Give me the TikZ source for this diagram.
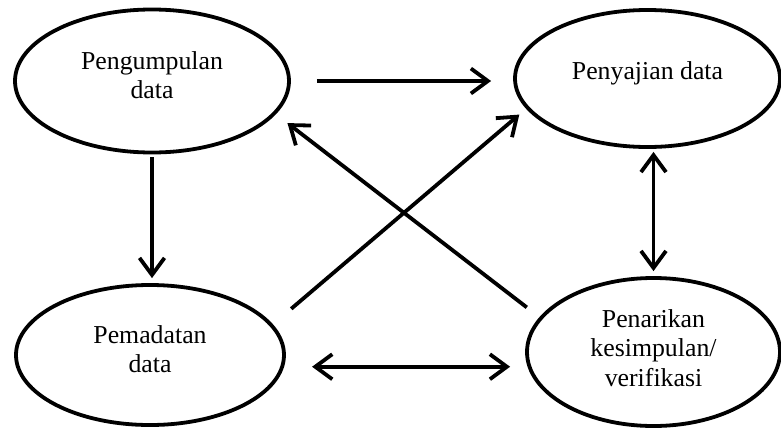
\documentclass[tikz,border=0pt]{standalone}
\usepackage{fontspec}
\setmainfont{Liberation Serif}
\usepackage{tikz}
\usetikzlibrary{arrows.meta}
\usetikzlibrary{shapes.geometric}

\begin{document}
\begin{tikzpicture}[x=0.5pt, y=-0.5pt, line width=1.9pt,
   tahap/.style={draw, ellipse, align=center, inner sep=0pt,
                 font=\fontsize{12.9}{14.8}\selectfont},
   panah/.style={-{Straight Barb[length=8.5pt, width=12.5pt, line width=1.9pt]}},
   dua/.style={{Straight Barb[length=8.5pt, width=12.5pt, line width=1.9pt]}-{Straight Barb[length=8.5pt, width=12.5pt, line width=1.9pt]}}]
\useasboundingbox (0,0) rectangle (781,428);

\node[tahap, minimum width=137pt, minimum height=71.5pt] (kumpul) at (152,81)    {Pengumpulan\\data\\[-8.8pt]};
\node[tahap, minimum width=132.5pt, minimum height=68.5pt] (sajian) at (647.5,78.5) {Penyajian data\\[-6.8pt]};
\node[tahap, minimum width=134pt, minimum height=70pt] (padat) at (150,355)      {Pemadatan\\data\\[-8.8pt]};
\node[tahap, minimum width=126.5pt, minimum height=74pt] (tarik) at (653.5,352)  {\mbox{}\\[-9.8pt]Penarikan\\kesimpulan/\\verifikasi};

\draw[panah, shorten <=13pt, shorten >=11pt] (kumpul.east) -- (kumpul.east -| sajian.west);
\draw[panah, shorten <=1.5pt, shorten >=2.5pt] (kumpul.south) -- (kumpul.south |- padat.north);
\draw[dua, shorten <=1.5pt, shorten >=2.5pt] (tarik.north |- sajian.south) -- (tarik.north);
\draw[dua, shorten <=14pt, shorten >=7.5pt] (padat.-5) -- (padat.-5 -| tarik.west);
\draw[panah, shorten <=12pt, shorten >=4.5pt] (padat.14) -- (sajian.194);
\draw[panah, shorten <=8pt, shorten >=7.3pt] (tarik.163.6) -- (kumpul.-15.3);
%--------end graphics code--------
\end{tikzpicture}
\end{document}
